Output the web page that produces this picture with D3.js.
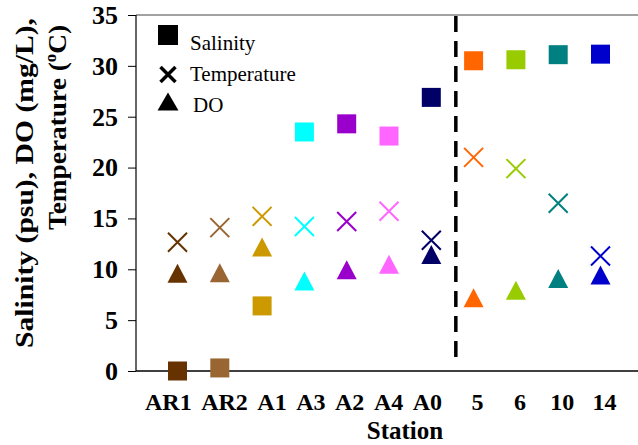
<!DOCTYPE html>
<html>
<head>
<meta charset="utf-8">
<script src="https://cdn.jsdelivr.net/npm/d3@7"></script>
</head>
<body style="margin:0; background:#fff">
<svg></svg>
<script>
var stations = ["AR1", "AR2", "A1", "A3", "A2", "A4", "A0", "5", "6", "10", "14"];
var salinity = [0.0, 0.3, 6.4, 23.5, 24.3, 23.1, 26.9, 30.5, 30.6, 31.1, 31.15];
var temperature = [12.65, 14.1, 15.2, 14.2, 14.7, 15.7, 12.85, 21.0, 19.9, 16.5, 11.3];
var dissolvedO2 = [9.6, 9.65, 12.2, 8.85, 9.95, 10.5, 11.45, 7.2, 7.95, 9.1, 9.45];
var colors = ["#663300", "#996633", "#CC9900", "#00FFFF", "#9900CC", "#FF66FF",
              "#000066", "#FF6600", "#99CC00", "#008080", "#0000CC"];
var yTicks = [0, 5, 10, 15, 20, 25, 30, 35];
var legendItems = ["Salinity", "Temperature", "DO"];

var serif = "Liberation Serif";

var screen =
{
  width: 638,
  height: 445
};

var svg = d3.select("svg")
            .attr("width", screen.width)
            .attr("height", screen.height)
            .attr("font-family", serif);

var margins =
{
  top: 15,
  bottom: 74,
  left: 136,
  right: 0
};
var height = screen.height - margins.top - margins.bottom;

// station index -> x, the split line sits between A0 and 5
var xScale = d3.scaleLinear()
               .domain([-1, 10])
               .range([margins.left - 0.8, 600.5]);

var yScale = d3.scaleLinear()
               .domain([0, 35])
               .range([margins.top + height, margins.top]);

var y0 = yScale(0);
var splitAt = 7;

// frame
svg.append("line")
   .attr("x1", margins.left).attr("x2", screen.width + 5)
   .attr("y1", yScale(35)).attr("y2", yScale(35))
   .attr("stroke", "#444").attr("stroke-width", 1);

svg.append("line")
   .attr("x1", margins.left).attr("x2", margins.left)
   .attr("y1", yScale(35)).attr("y2", y0)
   .attr("stroke", "#000").attr("stroke-width", 1.2);

svg.append("line")
   .attr("x1", margins.left).attr("x2", screen.width)
   .attr("y1", y0).attr("y2", y0)
   .attr("stroke", "#000").attr("stroke-width", 1.6);

// y axis
var yAxis = svg.append("g")
               .attr("transform", "translate(" + margins.left + ",0)")
               .call(d3.axisLeft(yScale).tickValues(yTicks).tickSize(8).tickPadding(10));
yAxis.select(".domain").remove();
yAxis.attr("font-family", serif).attr("font-size", 26).attr("font-weight", "bold");
yAxis.selectAll("line").attr("stroke", "#000");
yAxis.selectAll("text").attr("fill", "#000");

// x labels: upstream ones run as one line of text, the rest sit under their marks
var upLabels = svg.append("text")
                  .attr("x", margins.left + 9)
                  .attr("y", 410)
                  .attr("font-weight", "bold")
                  .attr("font-size", 24);
upLabels.selectAll("tspan")
        .data(stations.slice(0, splitAt))
        .enter()
        .append("tspan")
        .attr("dx", function(d, i) { return i == 0 ? 0 : 9.5; })
        .text(function(d) { return d; });

svg.selectAll(".xlab")
   .data(stations.slice(splitAt))
   .enter()
   .append("text")
   .classed("xlab", true)
   .attr("x", function(d, i) { return xScale(i + splitAt) + 4; })
   .attr("y", 410)
   .attr("text-anchor", "middle")
   .attr("font-weight", "bold")
   .attr("font-size", 24)
   .text(function(d) { return d; });

svg.append("text")
   .attr("x", 405)
   .attr("y", 439)
   .attr("text-anchor", "middle")
   .attr("font-weight", "bold")
   .attr("font-size", 25)
   .text("Station");

// y title, two lines
svg.append("text")
   .attr("transform", "translate(33,18) rotate(-90)")
   .attr("text-anchor", "end")
   .attr("font-weight", "bold")
   .attr("font-size", 26)
   .attr("textLength", 330)
   .attr("lengthAdjust", "spacingAndGlyphs")
   .text("Salinity (psu), DO (mg/L),");

var line2 = svg.append("text")
               .attr("transform", "translate(66,25) rotate(-90)")
               .attr("text-anchor", "end")
               .attr("font-weight", "bold")
               .attr("font-size", 26)
               .attr("textLength", 205)
               .attr("lengthAdjust", "spacingAndGlyphs");
line2.append("tspan").text("Temperature (");
line2.append("tspan").attr("dy", -10).attr("font-size", 16).text("o");
line2.append("tspan").attr("dy", 10).text("C)");

// dashed divider
svg.append("line")
   .attr("x1", xScale(6.58)).attr("x2", xScale(6.58))
   .attr("y1", yScale(35)).attr("y2", y0 - 5)
   .attr("stroke", "#000")
   .attr("stroke-width", 3.5)
   .attr("stroke-dasharray", "16,9")
   .attr("stroke-dashoffset", -1);

var sq = 19;

// salinity squares
svg.selectAll(".sal")
   .data(salinity)
   .enter()
   .append("rect")
   .classed("sal", true)
   .attr("x", function(d, i) { return xScale(i) - sq / 2; })
   .attr("y", function(d) { return yScale(d) - sq / 2; })
   .attr("width", sq)
   .attr("height", sq)
   .attr("fill", function(d, i) { return colors[i]; });

// temperature crosses
var cross = function(r) {
  return "M" + (-r) + "," + (-r) + "L" + r + "," + r + "M" + (-r) + "," + r + "L" + r + "," + (-r);
};
svg.selectAll(".temp")
   .data(temperature)
   .enter()
   .append("path")
   .classed("temp", true)
   .attr("transform", function(d, i) { return "translate(" + xScale(i) + "," + yScale(d) + ")"; })
   .attr("d", cross(9.5))
   .attr("fill", "none")
   .attr("stroke-width", 2)
   .attr("stroke", function(d, i) { return colors[i]; });

// DO triangles
var tri = function(w, h) {
  return "M0," + (-h / 2) + "L" + (w / 2) + "," + (h / 2) + "L" + (-w / 2) + "," + (h / 2) + "Z";
};
svg.selectAll(".do")
   .data(dissolvedO2)
   .enter()
   .append("path")
   .classed("do", true)
   .attr("transform", function(d, i) { return "translate(" + xScale(i) + "," + yScale(d) + ")"; })
   .attr("d", tri(20, 19))
   .attr("fill", function(d, i) { return colors[i]; });

// legend
var legend = svg.append("g").attr("transform", "translate(168,0)");
legend.append("rect")
      .attr("x", -10).attr("y", 25).attr("width", 20).attr("height", 20)
      .attr("fill", "#000");
legend.append("path")
      .attr("transform", "translate(0,74.5)")
      .attr("d", cross(7.5))
      .attr("stroke", "#000").attr("stroke-width", 3.5);
legend.append("path")
      .attr("transform", "translate(0,101.5)")
      .attr("d", tri(21, 18))
      .attr("fill", "#000");
legend.selectAll("text")
      .data(legendItems)
      .enter()
      .append("text")
      .attr("x", function(d, i) { return i == 2 ? 25 : 22; })
      .attr("y", function(d, i) { return 50 + i * 31; })
      .attr("font-size", 21)
      .text(function(d) { return d; });
</script>
</body>
</html>
